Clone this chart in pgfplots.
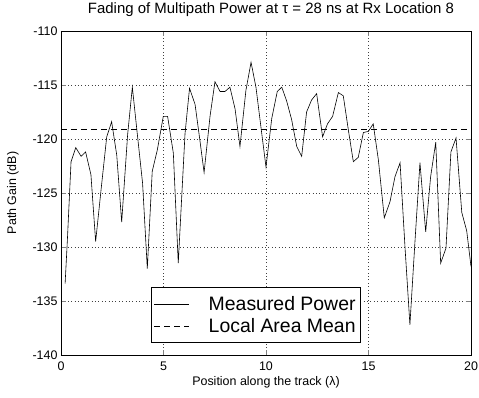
\documentclass[border=0pt]{standalone}
\usepackage{pgfplots}
\pgfplotsset{compat=1.18}
\usepackage{fontspec}
\setmainfont{Liberation Sans}
\begin{document}
\begin{tikzpicture}
\begin{axis}[
  at={(0,0)}, anchor=south west,
  scale only axis, width=410bp, height=324bp,
  xmin=0, xmax=20, ymin=-140, ymax=-110,
  xtick={0,5,10,15,20}, ytick={-140,-135,-130,-125,-120,-115,-110},
  tick align=inside, major tick length=5bp,
  xtick pos=both, ytick pos=both,
  grid=major, major grid style={dash pattern=on 0.8bp off 2.6bp, black!75, line width=0.5pt},
  axis line style={line width=0.7pt},
  /pgf/number format/assume math mode=true,
  tick label style={font=\fontsize{12.5}{14}\selectfont},
  xticklabel style={yshift=-3bp},
  title={Fading of Multipath Power at τ = 28 ns at Rx Location 8},
  title style={font=\fontsize{15}{17}\selectfont, at={(0.5,1)}, anchor=base, yshift=12bp, xshift=5bp},
  xlabel={Position along the track (λ)},
  ylabel={Path Gain (dB)},
  label style={font=\fontsize{12.5}{14}\selectfont},
  xlabel style={yshift=1bp},
  ylabel style={yshift=7bp},
  legend style={at={(axis description cs:0.219,0.037)}, anchor=south west,
    font=\fontsize{19.5}{21}\selectfont, draw=black, line width=0.7pt,
    inner xsep=3bp, inner ysep=6bp, row sep=0bp, column sep=17bp,
    nodes={inner ysep=3bp},
    cells={anchor=west}},
  legend image code/.code={\draw[#1] (0bp,0bp) -- (35bp,0bp);},
]
\addplot[black, line width=0.6pt] coordinates {
(0.2,-133.4) (0.31,-129.4) (0.49,-122.1) (0.72,-120.8) (0.98,-121.6) (1.2,-121.2)
(1.46,-123.3) (1.69,-129.5) (1.96,-124.6) (2.23,-119.8) (2.47,-118.4) (2.72,-121.5)
(2.96,-127.7) (3.25,-119.6) (3.48,-115.2) (3.72,-119.5) (3.98,-124.1) (4.21,-132.0)
(4.45,-123.0) (4.7,-121.0) (4.99,-117.9) (5.2,-117.9) (5.48,-121.3) (5.72,-131.5)
(6.05,-119.5) (6.27,-115.3) (6.54,-116.8) (6.76,-119.9) (6.98,-123.1) (7.27,-117.9)
(7.51,-114.7) (7.76,-115.6) (8.0,-115.6) (8.24,-115.2) (8.49,-117.2) (8.73,-120.7)
(9.02,-115.5) (9.27,-112.9) (9.51,-115.2) (9.76,-119.0) (10.0,-122.6) (10.28,-118.1)
(10.55,-115.6) (10.77,-115.2) (11.01,-116.5) (11.25,-118.2) (11.5,-120.7) (11.74,-121.6)
(11.98,-117.5) (12.22,-116.4) (12.47,-115.8) (12.76,-119.8) (13.0,-118.6) (13.25,-117.9)
(13.53,-115.7) (13.77,-116.0) (14.02,-119.2) (14.26,-122.1) (14.5,-121.7) (14.75,-119.4)
(14.99,-119.3) (15.23,-118.6) (15.48,-121.9) (15.77,-127.3) (16.05,-125.8) (16.29,-123.5)
(16.54,-122.2) (16.78,-130.0) (17.02,-137.2) (17.27,-129.4) (17.51,-122.2) (17.79,-128.6)
(18.03,-123.5) (18.28,-120.3) (18.52,-131.5) (18.78,-130.1) (19.02,-121.2) (19.27,-119.9)
(19.55,-126.8) (19.79,-128.5) (20.0,-131.8)
};
\addlegendentry{Measured Power\hspace{8bp}}
\addplot[black, line width=0.6pt, dash pattern=on 6bp off 4bp] coordinates {(0,-119.1) (20,-119.1)};
\addlegendentry{Local Area Mean\hspace{8bp}}
\end{axis}
\pgfresetboundingbox
\path (-61bp,-43bp) rectangle (418bp,355bp);
\end{tikzpicture}
\end{document}
